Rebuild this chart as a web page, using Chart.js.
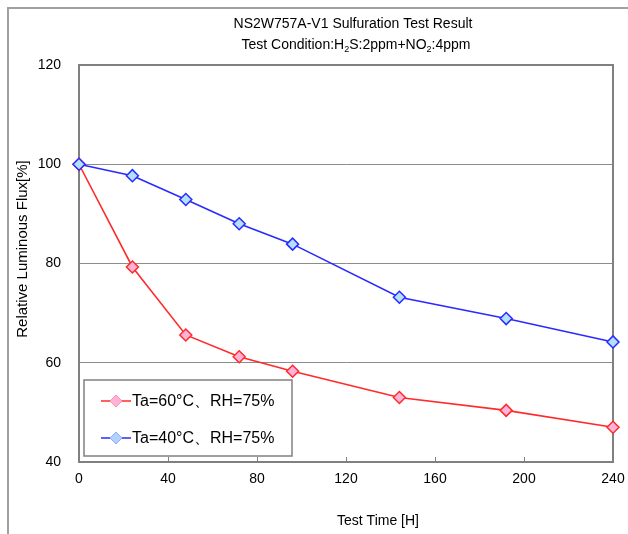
<!DOCTYPE html>
<html>
<head>
<meta charset="utf-8">
<script src="https://cdn.jsdelivr.net/npm/chart.js@4"></script>
<style>
  html, body { margin: 0; padding: 0; background: #fff; }
  #wrap { width: 628px; height: 534px; position: relative; }
</style>
</head>
<body>
<div id="wrap"><canvas id="chart" width="628" height="534"></canvas></div>
<script>
const hours = [0, 24, 48, 72, 96, 144, 192, 240];
const flux60 = [100, 79.3, 65.6, 61.2, 58.3, 53.0, 50.4, 47.0];
const flux40 = [100, 97.7, 92.9, 88.0, 83.9, 73.2, 68.9, 64.2];
const seriesLabels = ['Ta=60\u00B0C\u3001RH=75%', 'Ta=40\u00B0C\u3001RH=75%'];
const xTicks = [0, 40, 80, 120, 160, 200, 240];
const yTicks = [40, 60, 80, 100, 120];

const FONT = '"Liberation Sans", Arial, sans-serif';

// frame, titles, tick marks and the boxed legend
const extras = {
    id: 'extras',
    beforeDatasetsDraw(chart) {
        const ctx = chart.ctx;
        const a = chart.chartArea;
        ctx.save();
        ctx.strokeStyle = '#808080';
        ctx.lineWidth = 2;
        ctx.beginPath();
        ctx.moveTo(a.left, a.top);
        ctx.lineTo(a.right, a.top);
        ctx.lineTo(a.right, a.bottom);
        ctx.stroke();
        ctx.restore();
    },
    afterDraw(chart) {
        const ctx = chart.ctx;
        const area = chart.chartArea;
        const xs = chart.scales.x;
        ctx.save();

        // outer frame (left / top)
        ctx.strokeStyle = '#a0a0a0';
        ctx.lineWidth = 2;
        ctx.beginPath();
        ctx.moveTo(8, 534);
        ctx.lineTo(8, 8);
        ctx.lineTo(628, 8);
        ctx.stroke();

        // small upward ticks on x axis
        ctx.strokeStyle = '#808080';
        ctx.lineWidth = 1;
        xTicks.forEach(t => {
            const x = Math.round(xs.getPixelForValue(t)) + 0.5;
            ctx.beginPath();
            ctx.moveTo(x, area.bottom);
            ctx.lineTo(x, area.bottom - 5);
            ctx.stroke();
        });

        // title
        ctx.fillStyle = '#000';
        ctx.textBaseline = 'alphabetic';
        ctx.font = '14px ' + FONT;
        ctx.textAlign = 'center';
        ctx.fillText('NS2W757A-V1 Sulfuration Test Result', 353, 28);

        // subtitle with subscripts
        const parts = [
            ['Test Condition:H', false], ['2', true], ['S:2ppm+NO', false], ['2', true], [':4ppm', false]
        ];
        const mainFont = '14px ' + FONT;
        const subFont = '9px ' + FONT;
        let total = 0;
        parts.forEach(p => { ctx.font = p[1] ? subFont : mainFont; total += ctx.measureText(p[0]).width; });
        let cx = 356 - total / 2;
        ctx.textAlign = 'left';
        parts.forEach(p => {
            ctx.font = p[1] ? subFont : mainFont;
            ctx.fillText(p[0], cx, p[1] ? 52 : 49);
            cx += ctx.measureText(p[0]).width;
        });

        // axis titles
        ctx.font = '14px ' + FONT;
        ctx.textAlign = 'center';
        ctx.fillText('Test Time [H]', 378, 525);
        ctx.save();
        ctx.translate(27, 249);
        ctx.rotate(-Math.PI / 2);
        ctx.font = '15px ' + FONT;
        ctx.fillText('Relative Luminous Flux[%]', 0, 0);
        ctx.restore();

        // legend box
        const lx = 84, ly = 380, lw = 208, lh = 76;
        ctx.fillStyle = '#fff';
        ctx.fillRect(lx, ly, lw, lh);
        ctx.strokeStyle = '#808080';
        ctx.lineWidth = 1.5;
        ctx.strokeRect(lx, ly, lw, lh);
        const dsets = chart.data.datasets;
        [0, 1].forEach(i => {
            const ds = dsets[i];
            const y = ly + 21 + i * 37;
            ctx.strokeStyle = ds.borderColor;
            ctx.lineWidth = 1.5;
            ctx.beginPath();
            ctx.moveTo(lx + 17, y);
            ctx.lineTo(lx + 47, y);
            ctx.stroke();
            ctx.beginPath();
            ctx.moveTo(lx + 32, y - 6);
            ctx.lineTo(lx + 38, y);
            ctx.lineTo(lx + 32, y + 6);
            ctx.lineTo(lx + 26, y);
            ctx.closePath();
            ctx.fillStyle = ds.legendFill;
            ctx.fill();
            ctx.strokeStyle = ds.legendStroke;
            ctx.lineWidth = 1;
            ctx.stroke();
            ctx.fillStyle = '#000';
            ctx.font = '16px ' + FONT;
            ctx.textAlign = 'left';
            ctx.textBaseline = 'middle';
            ctx.fillText(ds.label, lx + 48, y + 1);
        });

        ctx.restore();
    }
};

new Chart(document.getElementById('chart'), {
    type: 'line',
    data: {
        datasets: [
            {
                label: seriesLabels[0],
                data: hours.map((h, i) => ({ x: h, y: flux60[i] })),
                borderColor: '#ff2a2a',
                borderWidth: 1.6,
                pointStyle: 'rectRot',
                pointRadius: 6,
                pointBackgroundColor: '#ffb3d9',
                pointBorderColor: '#ff2a2a',
                pointBorderWidth: 1.5,
                legendFill: '#ffb3d9',
                legendStroke: '#ff8fb0',
                tension: 0,
                clip: false,
                order: 2
            },
            {
                label: seriesLabels[1],
                data: hours.map((h, i) => ({ x: h, y: flux40[i] })),
                borderColor: '#2a2aff',
                borderWidth: 1.6,
                pointStyle: 'rectRot',
                pointRadius: 6,
                pointBackgroundColor: '#b3e0ff',
                pointBorderColor: '#2a2aff',
                pointBorderWidth: 1.5,
                legendFill: '#b3d1ff',
                legendStroke: '#8fa8ff',
                tension: 0,
                clip: false,
                order: 1
            }
        ]
    },
    options: {
        responsive: false,
        animation: false,
        layout: { padding: { left: 0, top: 65, right: 15, bottom: 0 } },
        plugins: {
            legend: { display: false },
            title: { display: false },
            tooltip: { enabled: false }
        },
        scales: {
            x: {
                type: 'linear',
                min: 0,
                max: 240,
                afterBuildTicks: s => { s.ticks = xTicks.map(v => ({ value: v })); },
                afterFit: s => { s.height = 72; s.paddingLeft = 0; s.paddingRight = 0; },
                grid: { drawOnChartArea: false, drawTicks: false },
                border: { display: true, color: '#808080', width: 2 },
                ticks: { color: '#000', font: { family: FONT, size: 14 }, padding: 9 }
            },
            y: {
                min: 40,
                max: 120,
                afterBuildTicks: s => { s.ticks = yTicks.map(v => ({ value: v })); },
                afterFit: s => { s.width = 79; s.paddingTop = 0; s.paddingBottom = 0; },
                grid: { color: '#8c8c8c', lineWidth: 1, drawTicks: false },
                border: { display: true, color: '#808080', width: 2 },
                ticks: { color: '#000', font: { family: FONT, size: 14 }, padding: 18 }
            }
        }
    },
    plugins: [extras]
});
</script>
</body>
</html>
